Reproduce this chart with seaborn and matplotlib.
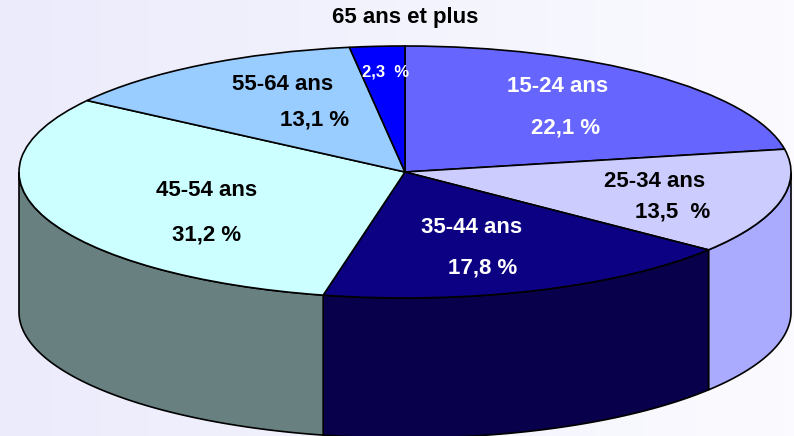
import numpy as np
import matplotlib
matplotlib.use("Agg")
import matplotlib.pyplot as plt
import seaborn as sns
from matplotlib.transforms import Affine2D
from matplotlib.patches import Polygon
from matplotlib.colors import LinearSegmentedColormap

# -------------------------------
# Data
# -------------------------------
groups = ["15-24 ans", "25-34 ans", "35-44 ans", "45-54 ans", "55-64 ans", "65 ans et plus"]
shares = [22.1, 13.5, 17.8, 31.2, 13.1, 2.3]
share_labels = ["22,1 %", "13,5  %", "17,8 %", "31,2 %", "13,1 %", "2,3  %"]

top_colors = ["#6666ff", "#ccccff", "#0c0083", "#ccffff", "#99ccff", "#0000ff"]
side_colors = ["#4d4dcc", "#aaaaff", "#08004b", "#688080", "#7399bf", "#0000b0"]
text_colors = ["white", "black", "white", "black", "black", "white"]

# -------------------------------
# Style
# -------------------------------
sns.set_style("white")
plt.rcParams["font.family"] = ["Liberation Sans", "DejaVu Sans"]

W, H = 794, 436
cx, cy, rx, ry, depth = 405, 172, 386, 126, 140

fig = plt.figure(figsize=(W / 100, H / 100), dpi=100)
ax = fig.add_axes([0, 0, 1, 1])

# background gradient
grad = np.linspace(0, 1, 256).reshape(1, -1)
bg = LinearSegmentedColormap.from_list("bg", ["#ebebfc", "#fbfbff"])
ax.imshow(grad, extent=(0, W, H, 0), cmap=bg, aspect="auto", zorder=0)

# unit circle -> flattened ellipse in pixel space
ellipse = Affine2D().scale(rx, -ry).translate(cx, cy) + ax.transData

# -------------------------------
# Top of the pie
# -------------------------------
wedges, _ = ax.pie(
    shares,
    colors=top_colors,
    startangle=90,
    counterclock=False,
    wedgeprops=dict(edgecolor="black", linewidth=1.2),
)
for w in wedges:
    w.set_transform(ellipse)
    w.set_zorder(3)

# -------------------------------
# Side walls (front half only)
# -------------------------------
d = depth / ry
cum = np.cumsum([0] + shares) / sum(shares) * 360
for i, col in enumerate(side_colors):
    a0 = 90 - cum[i + 1]
    a1 = 90 - cum[i]
    lo, hi = max(a0, -180), min(a1, 0)
    if hi <= lo:
        continue
    phi = np.radians(np.linspace(lo, hi, 120))
    top = np.column_stack([np.cos(phi), np.sin(phi)])
    bot = np.column_stack([np.cos(phi), np.sin(phi) - d])[::-1]
    ax.add_patch(Polygon(np.vstack([top, bot]), closed=True, facecolor=col,
                         edgecolor="black", linewidth=1.2, transform=ellipse, zorder=2))

# -------------------------------
# Labels
# -------------------------------
name_pos = [(558, 87), (655, 181), (472, 227), (207, 190), (283, 84), (405, 18)]
pct_pos = [(566, 128), (673, 212), (483, 268), (207, 235), (315, 120), (386, 72)]

for i in range(len(groups)):
    name_col = "black" if i == 5 else text_colors[i]
    ax.text(*name_pos[i], groups[i], color=name_col, fontsize=16, fontweight="bold",
            ha="center", va="center", zorder=5)
    ax.text(*pct_pos[i], share_labels[i], color=text_colors[i],
            fontsize=12 if i == 5 else 16, fontweight="bold",
            ha="center", va="center", zorder=5)

ax.set_xlim(0, W)
ax.set_ylim(H, 0)
ax.set_aspect("auto")
ax.axis("off")

fig.savefig("out.png", dpi=100)
